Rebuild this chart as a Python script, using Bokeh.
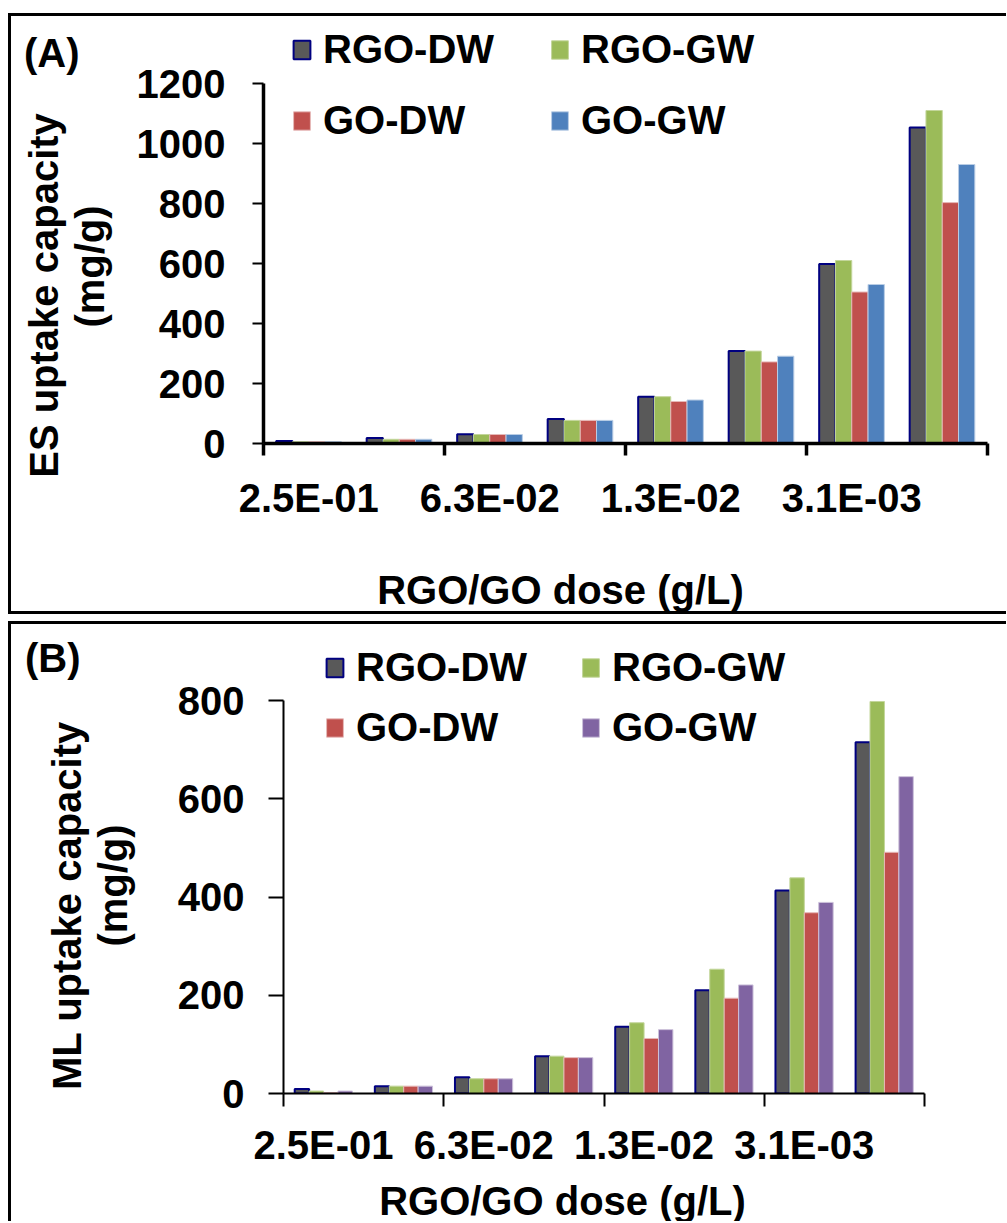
import numpy as np
from bokeh.plotting import figure
from bokeh.models import (Range1d, FixedTicker, Spacer, ColumnDataSource, Title,
                          LinearAxis)
from bokeh.layouts import column, row
from bokeh.transform import dodge
from bokeh.embed import file_html
from bokeh.resources import INLINE

# ---------------- data ----------------
doses = ["2.5E-01", "1.3E-01", "6.3E-02", "2.5E-02", "1.3E-02", "6.3E-03", "3.1E-03", "1.6E-03"]
series = ["RGO-DW", "RGO-GW", "GO-DW", "GO-GW"]

# Panel A: ES uptake capacity (mg/g)
es_rgo_dw = [8, 18, 31, 82, 156, 308, 598, 1053]
es_rgo_gw = [6, 14, 30, 77, 156, 308, 610, 1110]
es_go_dw = [6, 14, 30, 77, 140, 272, 505, 803]
es_go_gw = [6, 14, 30, 77, 145, 291, 530, 930]

# Panel B: ML uptake capacity (mg/g)
ml_rgo_dw = [9, 15, 33, 76, 136, 210, 413, 715]
ml_rgo_gw = [5, 15, 30, 76, 144, 253, 439, 798]
ml_go_dw = [2, 15, 30, 73, 112, 194, 368, 491]
ml_go_gw = [5, 15, 30, 73, 130, 221, 389, 645]

es_ticks = [0, 200, 400, 600, 800, 1000, 1200]
ml_ticks = [0, 200, 400, 600, 800]

fill_a = ["#595959", "#9BBB59", "#C0504D", "#4F81BD"]
line_a = ["#000080", "#C3D69B", "#E6B9B8", "#B9CDE5"]
fill_b = ["#595959", "#9BBB59", "#C0504D", "#8064A2"]
line_b = ["#000080", "#C3D69B", "#E6B9B8", "#CCC1DA"]

FONT = "Liberation Sans"
FS = "40px"
EM = 40.0
XTITLE = "RGO/GO dose (g/L)"


def text_w(s):
    # approximate advance widths of Liberation Sans Bold (em units)
    w = {"(": .333, ")": .333, "/": .278, " ": .278, "-": .333, ".": .278,
         "A": .722, "B": .722, "E": .667, "S": .667, "M": .833, "L": .611,
         "R": .722, "G": .778, "O": .778, "D": .722, "W": .944,
         "a": .556, "c": .556, "d": .611, "e": .556, "g": .611, "i": .278,
         "k": .556, "m": .889, "o": .611, "p": .611, "s": .556, "t": .333,
         "u": .611, "y": .556}
    return sum(w.get(ch, .556) for ch in s) * EM


def txt_props(obj, prefix=""):
    setattr(obj, prefix + "text_font", FONT)
    setattr(obj, prefix + "text_font_style", "bold")
    setattr(obj, prefix + "text_font_size", FS)
    setattr(obj, prefix + "text_color", "black")


def make_panel(values, fills, lines, yticks, px_per_unit, W, H, left, right, bottom,
               border_css, axis_w, ytick_out, ystand, ylab_gap, xtick_out, xstand,
               xlab_gap, leg_xy, leg_spacing, leg_label_w, ytitle1, ytitle2, c1, c2,
               xtitle_cx, letter, letter_y, letter_stand):
    frame_h = H - bottom
    p = figure(width=W, height=H, output_backend="svg", toolbar_location=None,
               min_border_left=left, min_border_right=right, min_border_top=0,
               min_border_bottom=bottom, styles=border_css)
    p.x_range = Range1d(0, len(doses))
    p.y_range = Range1d(0, frame_h / px_per_unit)
    p.outline_line_color = None
    p.xgrid.visible = False
    p.ygrid.visible = False

    src = ColumnDataSource(dict(x=np.arange(len(doses)) + 0.5,
                                **{s: v for s, v in zip(series, values)}))
    bw = 0.18
    offs = [-1.5 * bw, -0.5 * bw, 0.5 * bw, 1.5 * bw]
    for j, s in enumerate(series):
        p.vbar(x=dodge("x", offs[j], range=p.x_range), top=s, width=bw, source=src,
               fill_color=fills[j], line_color=lines[j],
               line_width=2 if j == 0 else 1, legend_label=s)

    # x axis: labels on every second dose, ticks on every second boundary
    xa = p.xaxis[0]
    xa.ticker = FixedTicker(ticks=[i + 0.5 for i in range(0, len(doses), 2)],
                            minor_ticks=list(range(0, len(doses) + 1, 2)))
    xa.major_label_overrides = {i + 0.5: doses[i] for i in range(0, len(doses), 2)}
    xa.major_tick_line_color = None
    xa.major_tick_out = 0
    xa.major_tick_in = 0
    xa.minor_tick_out = xtick_out
    xa.minor_tick_in = 0
    xa.minor_tick_line_color = "black"
    xa.minor_tick_line_width = axis_w
    xa.axis_line_width = axis_w
    xa.axis_line_color = "black"
    xa.major_label_standoff = xstand
    txt_props(xa, "major_label_")
    xa.axis_label = " "
    xa.axis_label_text_font_size = "1px"
    xa.axis_label_standoff = xlab_gap

    # y axis
    ya = p.yaxis[0]
    ya.ticker = FixedTicker(ticks=yticks, minor_ticks=[])
    ya.bounds = (yticks[0], yticks[-1])
    ya.major_tick_in = 0
    ya.major_tick_out = ytick_out
    ya.major_tick_line_width = 2
    ya.major_tick_line_color = "black"
    ya.minor_tick_line_color = None
    ya.minor_tick_out = 0
    ya.axis_line_width = axis_w
    ya.axis_line_color = "black"
    ya.major_label_standoff = ystand
    txt_props(ya, "major_label_")
    # tiny blank axis label used only as a gap before the axis titles
    ya.axis_label = " "
    ya.axis_label_text_font_size = "1px"
    ya.axis_label_standoff = ylab_gap

    # series legend
    lg = p.legend[0]
    lg.orientation = "horizontal"
    lg.ncols = 2
    lg.location = leg_xy
    lg.padding = 0
    lg.margin = 0
    lg.spacing = leg_spacing
    lg.border_line_color = None
    lg.background_fill_alpha = 0
    lg.glyph_width = 21
    lg.glyph_height = 23
    lg.label_height = 48
    lg.label_width = leg_label_w
    lg.label_standoff = 11
    txt_props(lg, "label_")

    # y-axis titles (two lines, each centred at its own position along the axis)
    for txt, cy in [(ytitle2, c2), (ytitle1, c1)]:
        t = Title(text=txt, align="left", vertical_align="bottom", standoff=0,
                  offset=cy - text_w(txt) / 2)
        txt_props(t)
        p.add_layout(t, "left")

    # panel letter: a bare tick label on an extra, line-less left axis
    la = LinearAxis(ticker=FixedTicker(ticks=[letter_y / px_per_unit], minor_ticks=[]),
                    major_label_overrides={letter_y / px_per_unit: letter},
                    axis_line_color=None, major_tick_line_color=None,
                    minor_tick_line_color=None, major_tick_out=0, major_tick_in=0,
                    minor_tick_out=0, minor_tick_in=0, major_label_standoff=letter_stand)
    txt_props(la, "major_label_")
    p.add_layout(la, "left")

    # x-axis title
    xt = Title(text=XTITLE, align="left", vertical_align="bottom", standoff=0,
               offset=xtitle_cx - text_w(XTITLE) / 2)
    txt_props(xt)
    p.add_layout(xt, "below")
    return p


# Panel A: host (border-box) at abs (8, 13); canvas starts at abs (11, 16)
# frame left abs 263, right abs 987, bottom abs 443, top abs 16
pA = make_panel([es_rgo_dw, es_rgo_gw, es_go_dw, es_go_gw], fill_a, line_a, es_ticks,
                0.3, 998, 601, 252, 22, 174,
                {"border-top": "3px solid black", "border-left": "3px solid black",
                 "border-bottom": "3px solid black"},
                3.5, 11, 27, 18, 12, 20, 39,
                (28, 299), 23, 203, "ES uptake capacity", "(mg/g)",
                443 - 295, 443 - 266,
                560 - 263, "(A)", 443 - 52, -60)

# Panel B: host at abs (8, 621); canvas starts at abs (11, 624)
# frame left abs 283, right abs 924, bottom abs 1093, top abs 624
pB = make_panel([ml_rgo_dw, ml_rgo_gw, ml_go_dw, ml_go_gw], fill_b, line_b, ml_ticks,
                0.49125, 998, 600, 272, 85, 131,
                {"border-top": "3px solid black", "border-left": "3px solid black"},
                2, 15, 24, 36, 13, 16, 3,
                (41, 342), 12, 212, "ML uptake capacity", "(mg/g)",
                1093 - 905, 1093 - 885,
                562 - 283, "(B)", 1093 - 657, -38)

rootA = column(Spacer(height=13), row(Spacer(width=8), pA))
rootB = column(Spacer(height=7), row(Spacer(width=8), pB))
open("out.html", "w").write(file_html([rootA, rootB], INLINE))
